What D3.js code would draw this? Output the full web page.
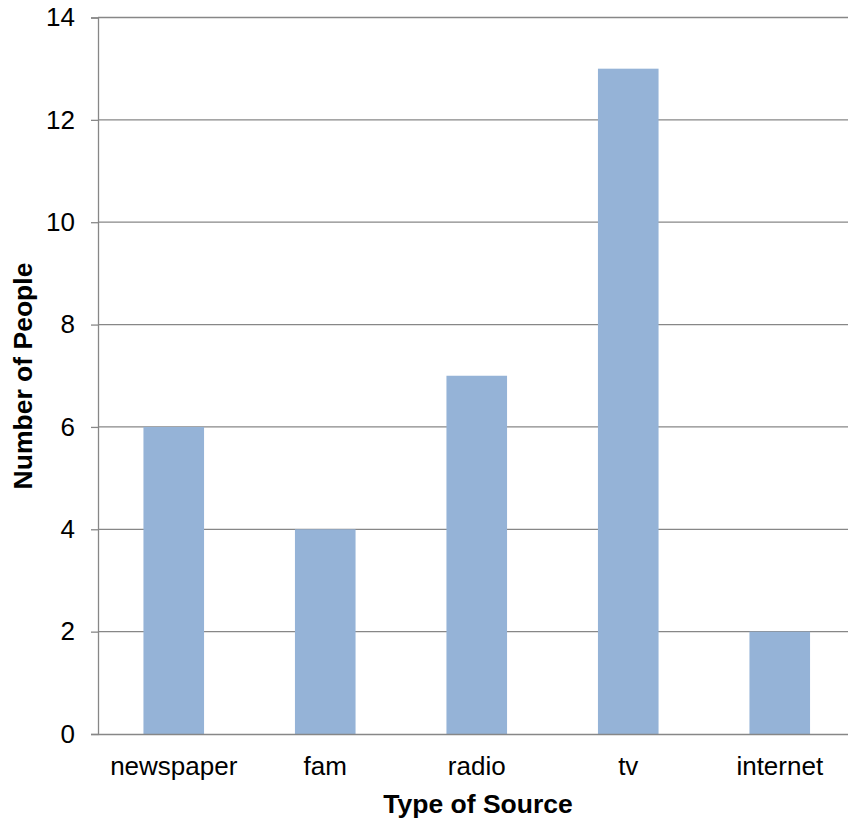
<!DOCTYPE html>
<html>
<head>
<meta charset="utf-8">
<script src="https://cdn.jsdelivr.net/npm/d3@7"></script>
<style>
  html, body { margin: 0; padding: 0; background: #fff; }
  svg { display: block; font-family: "Liberation Sans", Arial, sans-serif; }
</style>
</head>
<body>
<svg id="chart" width="848" height="820"></svg>
<script>
// Source of news: how many people named each type
const categories = ["newspaper", "fam", "radio", "tv", "internet"];
const counts = [6, 4, 7, 13, 2];
const yTicks = [0, 2, 4, 6, 8, 10, 12, 14];
const xTitle = "Type of Source";
const yTitle = "Number of People";

const svg = d3.select("#chart");
const plotLeft = 98, plotTop = 17.5, plotBottom = 734, step = 151.5;
const tickFont = 26, titleFont = 26.5;

const x = d3.scaleBand()
  .domain(categories)
  .range([plotLeft, plotLeft + step * categories.length])
  .paddingInner(0.6)
  .paddingOuter(0.3);

const y = d3.scaleLinear().domain([0, 14]).range([plotBottom, plotTop]);

const gridColor = "#878787";

// horizontal gridlines
svg.append("g").selectAll("line").data(yTicks.filter(d => d > 0)).join("line")
  .attr("x1", plotLeft).attr("x2", 848)
  .attr("y1", d => y(d)).attr("y2", d => y(d))
  .attr("stroke", gridColor).attr("stroke-width", 1.3);

// bars
svg.append("g").selectAll("rect").data(categories).join("rect")
  .attr("x", d => x(d))
  .attr("y", (d, i) => y(counts[i]))
  .attr("width", x.bandwidth())
  .attr("height", (d, i) => y(0) - y(counts[i]))
  .attr("fill", "#95b3d7");

// y axis
const yAxis = svg.append("g")
  .attr("transform", `translate(${plotLeft},0)`)
  .call(d3.axisLeft(y).tickValues(yTicks).tickSize(7).tickPadding(16).tickFormat(d3.format("d")));
yAxis.select(".domain").attr("stroke", gridColor).attr("stroke-width", 1.3);
yAxis.selectAll(".tick line").attr("stroke", gridColor).attr("stroke-width", 1.3);
yAxis.selectAll(".tick text")
  .attr("font-size", tickFont).attr("fill", "#000")
  .attr("font-family", "Liberation Sans, Arial, sans-serif");

// x axis
const xAxis = svg.append("g")
  .attr("transform", `translate(0,${plotBottom})`)
  .call(d3.axisBottom(x).tickSize(0).tickPadding(23));
xAxis.select(".domain").attr("stroke", gridColor).attr("stroke-width", 1.3);
xAxis.selectAll(".tick text")
  .attr("font-size", tickFont).attr("fill", "#000")
  .attr("font-family", "Liberation Sans, Arial, sans-serif");

// axis titles
svg.append("text")
  .attr("x", 478).attr("y", 813)
  .attr("text-anchor", "middle")
  .attr("font-size", titleFont).attr("font-weight", "bold")
  .text(xTitle);

svg.append("text")
  .attr("transform", "translate(32,376) rotate(-90)")
  .attr("text-anchor", "middle")
  .attr("font-size", titleFont).attr("font-weight", "bold")
  .text(yTitle);
</script>
</body>
</html>
